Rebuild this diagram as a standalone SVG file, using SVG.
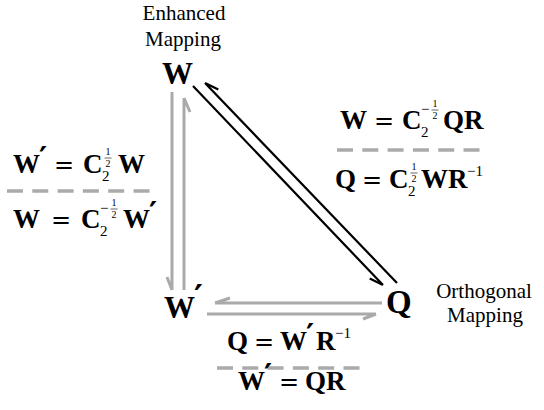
<svg xmlns="http://www.w3.org/2000/svg" width="544" height="410" viewBox="0 0 544 410">
<style>
.lab{font-family:"Liberation Serif","Times New Roman",Times,"DejaVu Serif",serif;font-size:21px;text-anchor:middle;fill:#000}
.node{font-family:"Liberation Serif","Times New Roman",Times,"DejaVu Serif",serif;font-weight:bold;font-size:31px;fill:#000}
.m{font-family:"Liberation Serif","Times New Roman",Times,"DejaVu Serif",serif;font-weight:bold;font-size:27px;fill:#000}
.eq{font-family:"DejaVu Serif",serif;font-weight:normal;font-size:24px}
.pr{font-family:"DejaVu Sans",sans-serif;font-weight:bold;font-size:31px}
.s{font-weight:normal;font-size:15px}
.f{font-weight:normal;font-size:10px;text-anchor:middle}
.bar{stroke:#000;stroke-width:0.6}
.g{fill:none;stroke:#aaaaaa;stroke-width:3}
.k{fill:none;stroke:#000;stroke-width:2.2}
.dash{fill:none;stroke:#aaaaaa;stroke-width:3.5;stroke-dasharray:16 9.3}
</style>
<rect width="544" height="410" fill="#fff"/>

<g id="node-W">
<text class="lab" x="184" y="20">Enhanced</text>
<text class="lab" x="183" y="46">Mapping</text>
<text class="node" x="162" y="84">W</text>
</g>
<g id="node-Wp">
<text class="node" x="164" y="318">W<tspan class="pr" x="194" y="309" style="font-size:34px">′</tspan></text>
</g>
<g id="node-Q">
<text class="node" x="386" y="313" style="font-size:33px">Q</text>
<text class="lab" x="484" y="298">Orthogonal</text>
<text class="lab" x="485" y="322">Mapping</text>
</g>

<g id="connectors">
<path class="g" d="M172,92 V290 M172,290 L167,277"/>
<path class="g" d="M184,290 V98 M184,98 L190,112"/>
<path class="g" d="M382,303 H215 M215,303 L230,298"/>
<path class="g" d="M207,314 H376 M376,314 L363,319"/>
<path class="k" d="M193,86 L383,285 M383,285 L369.7,278.4"/>
<path class="k" d="M397,283 L205,83 M205,83 L218.3,89.6"/>
</g>

<g id="label-left">
<text class="m" x="13" y="173">W<tspan class="pr" x="39" y="168">′</tspan><tspan class="eq" x="54" y="173">=</tspan><tspan x="83" y="173">C</tspan><tspan class="s" x="102" y="181">2</tspan><tspan class="f" x="108" y="155">1</tspan><tspan class="f" x="108" y="167">2</tspan><tspan x="118" y="173">W</tspan></text>
<line class="bar" x1="104.5" y1="158" x2="111.5" y2="158"/>
<path class="dash" d="M7,191 H153"/>
<text class="m" x="13" y="228">W<tspan class="eq" x="51" y="228">=</tspan><tspan x="81" y="228">C</tspan><tspan class="s" x="100" y="236">2</tspan><tspan class="s" x="100" y="213">−</tspan><tspan class="f" x="114" y="206">1</tspan><tspan class="f" x="114" y="218">2</tspan><tspan x="123" y="228">W</tspan><tspan class="pr" x="149" y="223">′</tspan></text>
<line class="bar" x1="110.5" y1="209" x2="117.5" y2="209"/>
</g>

<g id="label-diag">
<text class="m" x="340" y="129">W<tspan class="eq" x="374" y="129">=</tspan><tspan x="402" y="129">C</tspan><tspan class="s" x="421" y="137">2</tspan><tspan class="s" x="421" y="114">−</tspan><tspan class="f" x="435" y="107">1</tspan><tspan class="f" x="435" y="119">2</tspan><tspan x="443" y="129">QR</tspan></text>
<line class="bar" x1="431.5" y1="110" x2="438.5" y2="110"/>
<path class="dash" d="M337,150 H483"/>
<text class="m" x="335" y="188">Q<tspan class="eq" x="362" y="188">=</tspan><tspan x="389" y="188">C</tspan><tspan class="s" x="408" y="196">2</tspan><tspan class="f" x="414" y="170">1</tspan><tspan class="f" x="414" y="182">2</tspan><tspan x="421" y="188">WR</tspan><tspan class="s" x="467" y="176">−1</tspan></text>
<line class="bar" x1="410.5" y1="173" x2="417.5" y2="173"/>
</g>

<g id="label-bottom">
<text class="m" x="227" y="350">Q<tspan class="eq" x="254" y="350">=</tspan><tspan x="280" y="350">W</tspan><tspan class="pr" x="306" y="345">′</tspan><tspan x="316" y="350">R</tspan><tspan class="s" x="335" y="338">−1</tspan></text>
<path class="dash" d="M217,368 H363"/>
<text class="m" x="238" y="390">W<tspan class="pr" x="264" y="385">′</tspan><tspan class="eq" x="279" y="390">=</tspan><tspan x="305" y="390">QR</tspan></text>
</g>
</svg>
